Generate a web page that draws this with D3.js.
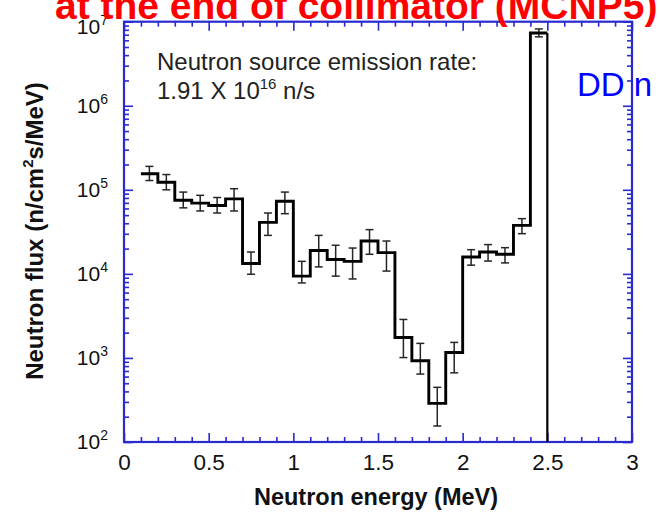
<!DOCTYPE html>
<html>
<head>
<meta charset="utf-8">
<script src="https://cdn.jsdelivr.net/npm/d3@7"></script>
<style>
  html, body { margin: 0; padding: 0; background: #fff; }
  svg { display: block; font-family: "Liberation Sans", Arial, Helvetica, sans-serif; }
</style>
</head>
<body>
<svg id="chart" width="659" height="519"></svg>
<script>
// ---- data ----
const binEdges = [0.1,0.2,0.3,0.4,0.5,0.6,0.7,0.8,0.9,1.0,1.1,1.2,1.3,1.4,1.5,1.6,1.7,1.8,1.9,2.0,2.1,2.2,2.3,2.4,2.5];
const flux     = [1.55e5,1.23e5,7.5e4,6.95e4,6.5e4,7.8e4,1.33e4,4.1e4,7.3e4,9.4e3,1.9e4,1.48e4,1.41e4,2.46e4,1.79e4,1.75e3,925,288,1160,1.59e4,1.82e4,1.71e4,3.78e4,7.34e6];
const errHigh  = [1.9e5,1.52e5,9.4e4,8.6e4,8.1e4,1.03e5,1.82e4,5.3e4,9.4e4,1.41e4,2.87e4,2.19e4,2.03e4,3.36e4,2.46e4,2.87e3,1.49e3,447,1.53e3,1.94e4,2.23e4,2.05e4,4.54e4,8.2e6];
const errLow   = [1.29e5,1.0e5,6.1e4,5.6e4,5.3e4,5.6e4,9.9e3,2.87e4,5.2e4,7.8e3,1.21e4,9.4e3,8.7e3,1.71e4,1.08e4,1.01e3,643,155,665,1.27e4,1.42e4,1.35e4,3.01e4,6.6e6];
const xTicks      = [0,0.5,1,1.5,2,2.5,3];
const xTickLabels = ["0","0.5","1","1.5","2","2.5","3"];
const yDecades    = [1e2,1e3,1e4,1e5,1e6,1e7];
const yExponents  = ["2","3","4","5","6","7"];
const titleText   = "at the end of collimator (MCNP5)";
const noteLine1   = "Neutron source emission rate:";
const noteLine2   = ["1.91 X 10", "16", " n/s"];
const sideLabel   = "DD n";
const xTitle      = "Neutron energy (MeV)";
const yTitle      = ["Neutron flux (n/cm", "2", "s/MeV)"];

// ---- layout ----
const svg = d3.select("#chart");
const L = 124, R = 632, T = 21.7, B = 442;
const axisColor = "#2a2ad0";

const x = d3.scaleLinear().domain([0, 3]).range([L, R]);
const y = d3.scaleLog().domain([1e2, 1e7]).range([B, T]);

const xMinor = d3.range(0, 31).map(i => i / 10).filter(v => !xTicks.some(t => Math.abs(t - v) < 1e-9));
const yMinor = [];
yDecades.slice(0, -1).forEach(d => { for (let k = 2; k <= 9; k++) yMinor.push(d * k); });

function styleAxis(g) {
  g.selectAll(".domain").remove();
  g.selectAll(".tick line").attr("stroke", axisColor).attr("stroke-width", 1.6);
}

// bottom axis
svg.append("g").attr("transform", `translate(0,${B})`)
  .call(d3.axisBottom(x).tickValues(xTicks).tickSize(-9).tickPadding(12)
        .tickFormat((d, i) => xTickLabels[i]))
  .call(styleAxis)
  .call(g => g.selectAll("text").attr("font-size", 22.5).attr("fill", "#111")
        .attr("font-family", "Liberation Sans, Arial, sans-serif"));
svg.append("g").attr("transform", `translate(0,${B})`)
  .call(d3.axisBottom(x).tickValues(xMinor).tickSize(-5).tickFormat(""))
  .call(styleAxis);
// top axis
svg.append("g").attr("transform", `translate(0,${T})`)
  .call(d3.axisTop(x).tickValues(xTicks).tickSize(-9).tickFormat(""))
  .call(styleAxis);
svg.append("g").attr("transform", `translate(0,${T})`)
  .call(d3.axisTop(x).tickValues(xMinor).tickSize(-5).tickFormat(""))
  .call(styleAxis);
// left axis
const leftAxis = svg.append("g").attr("transform", `translate(${L},0)`)
  .call(d3.axisLeft(y).tickValues(yDecades).tickSize(-9).tickPadding(16).tickFormat(""))
  .call(styleAxis);
leftAxis.selectAll(".tick text").each(function(d, i) {
  const t = d3.select(this).text(null)
    .attr("font-size", 21).attr("fill", "#111")
    .attr("dy", i === yDecades.length - 1 ? "0.55em" : "0.3em")
    .attr("font-family", "Liberation Sans, Arial, sans-serif");
  t.append("tspan").text("10");
  t.append("tspan").attr("font-size", 14).attr("dy", -9).text(yExponents[i]);
});
svg.append("g").attr("transform", `translate(${L},0)`)
  .call(d3.axisLeft(y).tickValues(yMinor).tickSize(-5).tickFormat(""))
  .call(styleAxis);
// right axis
svg.append("g").attr("transform", `translate(${R},0)`)
  .call(d3.axisRight(y).tickValues(yDecades).tickSize(-9).tickFormat(""))
  .call(styleAxis);
svg.append("g").attr("transform", `translate(${R},0)`)
  .call(d3.axisRight(y).tickValues(yMinor).tickSize(-5).tickFormat(""))
  .call(styleAxis);

// frame
svg.append("rect").attr("x", L).attr("y", T).attr("width", R - L).attr("height", B - T)
  .attr("fill", "none").attr("stroke", axisColor).attr("stroke-width", 2.2);

// ---- error bars ----
const centers = flux.map((v, i) => (binEdges[i] + binEdges[i + 1]) / 2);
const eb = svg.append("g").attr("stroke", "#262626").attr("stroke-width", 1.5).attr("fill", "none");
flux.forEach((v, i) => {
  const cx = x(centers[i]);
  eb.append("line").attr("x1", cx).attr("x2", cx).attr("y1", y(errHigh[i])).attr("y2", y(errLow[i]));
  eb.append("line").attr("x1", cx - 4).attr("x2", cx + 4).attr("y1", y(errHigh[i])).attr("y2", y(errHigh[i]));
  eb.append("line").attr("x1", cx - 4).attr("x2", cx + 4).attr("y1", y(errLow[i])).attr("y2", y(errLow[i]));
});

// ---- step histogram ----
const pts = flux.map((v, i) => [binEdges[i], v]);
pts.push([binEdges[binEdges.length - 1], flux[flux.length - 1]]);
const line = d3.line().x(d => x(d[0])).y(d => y(d[1])).curve(d3.curveStepAfter);
svg.append("path").attr("d", line(pts)).attr("fill", "none")
  .attr("stroke", "#000").attr("stroke-width", 2.9).attr("stroke-linejoin", "miter");
const lastE = binEdges[binEdges.length - 1];
svg.append("line").attr("x1", x(lastE)).attr("x2", x(lastE))
  .attr("y1", y(flux[flux.length - 1])).attr("y2", y(1e2))
  .attr("stroke", "#000").attr("stroke-width", 2.2);

// ---- annotations ----
svg.append("text").attr("x", 157).attr("y", 70).attr("font-size", 24).attr("fill", "#222").text(noteLine1);
const n2 = svg.append("text").attr("x", 157).attr("y", 99).attr("font-size", 24).attr("fill", "#222");
n2.append("tspan").text(noteLine2[0]);
n2.append("tspan").attr("font-size", 15).attr("dy", -10).text(noteLine2[1]);
n2.append("tspan").attr("dy", 10).text(noteLine2[2]);

svg.append("text").attr("x", 577).attr("y", 96).attr("font-size", 33).attr("fill", "#0000ff").text(sideLabel);

svg.append("text").attr("x", 55).attr("y", 19).attr("font-size", 39).attr("font-weight", "bold")
  .attr("fill", "#ff0000").text(titleText);

svg.append("text").attr("x", 376).attr("y", 505).attr("text-anchor", "middle")
  .attr("font-size", 23.5).attr("font-weight", "bold").attr("fill", "#111").text(xTitle);

const yt = svg.append("text").attr("transform", "translate(43,231) rotate(-90)")
  .attr("text-anchor", "middle").attr("font-size", 24).attr("font-weight", "bold").attr("fill", "#111");
yt.append("tspan").text(yTitle[0]);
yt.append("tspan").attr("font-size", 15).attr("dy", -10).text(yTitle[1]);
yt.append("tspan").attr("dy", 10).text(yTitle[2]);
</script>
</body>
</html>
